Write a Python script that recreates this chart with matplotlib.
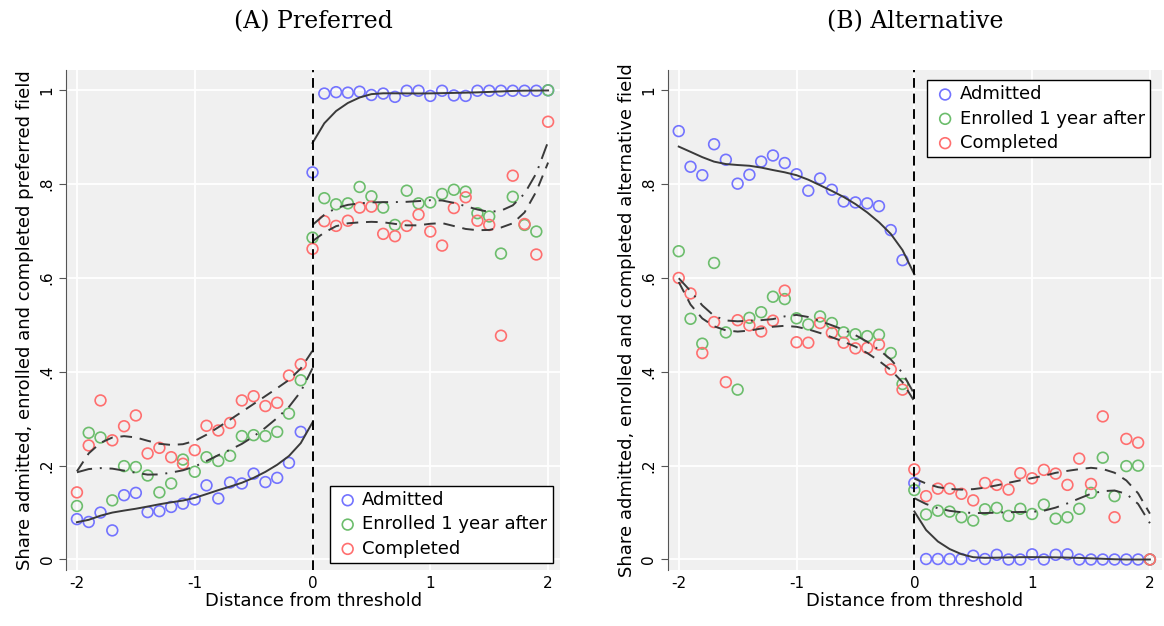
import numpy as np
import matplotlib.pyplot as plt

bins = np.round(np.arange(-2, 2.001, 0.1), 1)

# (A) Preferred field
pref_admitted = [0.086, 0.080, 0.100, 0.062, 0.137, 0.142, 0.101, 0.103, 0.112, 0.119,
                 0.128, 0.158, 0.130, 0.164, 0.162, 0.183, 0.165, 0.174, 0.206, 0.272,
                 0.825,
                 0.993, 0.996, 0.995, 0.997, 0.990, 0.993, 0.986, 0.999, 0.999, 0.988,
                 0.999, 0.989, 0.988, 0.999, 0.999, 0.999, 0.999, 0.999, 0.999, 1.000]
pref_enrolled = [0.114, 0.270, 0.260, 0.126, 0.199, 0.197, 0.179, 0.143, 0.162, 0.213,
                 0.187, 0.218, 0.210, 0.221, 0.263, 0.265, 0.263, 0.272, 0.311, 0.382,
                 0.686,
                 0.770, 0.757, 0.759, 0.794, 0.774, 0.750, 0.713, 0.786, 0.759, 0.761,
                 0.779, 0.788, 0.784, 0.738, 0.731, 0.652, 0.773, 0.713, 0.699, 1.000]
pref_completed = [0.143, 0.243, 0.339, 0.254, 0.284, 0.307, 0.226, 0.238, 0.218, 0.204,
                  0.233, 0.285, 0.275, 0.291, 0.339, 0.348, 0.327, 0.334, 0.392, 0.416,
                  0.662,
                  0.721, 0.711, 0.722, 0.750, 0.752, 0.694, 0.689, 0.711, 0.735, 0.699,
                  0.669, 0.749, 0.772, 0.722, 0.713, 0.477, 0.818, 0.715, 0.650, 0.933]

# (B) Alternative field
alt_admitted = [0.913, 0.837, 0.819, 0.885, 0.852, 0.801, 0.820, 0.848, 0.861, 0.845,
                0.821, 0.786, 0.812, 0.788, 0.763, 0.761, 0.759, 0.753, 0.702, 0.638,
                0.163,
                0.001, 0.001, 0.001, 0.001, 0.008, 0.001, 0.010, 0.000, 0.000, 0.011,
                0.000, 0.010, 0.011, 0.000, 0.000, 0.000, 0.000, 0.000, 0.000, 0.000]
alt_enrolled = [0.657, 0.513, 0.460, 0.632, 0.484, 0.362, 0.515, 0.527, 0.560, 0.555,
                0.514, 0.501, 0.518, 0.504, 0.484, 0.480, 0.476, 0.479, 0.440, 0.374,
                0.148,
                0.096, 0.104, 0.102, 0.090, 0.083, 0.107, 0.110, 0.093, 0.108, 0.097,
                0.117, 0.087, 0.090, 0.108, 0.142, 0.217, 0.135, 0.199, 0.200, 0.000]
alt_completed = [0.600, 0.567, 0.440, 0.506, 0.378, 0.510, 0.499, 0.486, 0.509, 0.573,
                 0.463, 0.462, 0.504, 0.483, 0.462, 0.450, 0.451, 0.458, 0.405, 0.362,
                 0.192,
                 0.135, 0.151, 0.151, 0.140, 0.126, 0.163, 0.159, 0.149, 0.184, 0.173,
                 0.191, 0.183, 0.159, 0.215, 0.161, 0.305, 0.090, 0.257, 0.249, 0.000]


def local_linear(x, y, xe, bw=0.6):
    out = []
    for x0 in xe:
        d = np.abs(x - x0) / bw
        w = np.where(d < 1, (1 - d ** 3) ** 3, 0)
        W = np.sum(w)
        mx = np.sum(w * x) / W
        my = np.sum(w * y) / W
        sxx = np.sum(w * (x - mx) ** 2)
        b = np.sum(w * (x - mx) * (y - my)) / sxx if sxx > 0 else 0
        out.append(my + b * (x0 - mx))
    return np.array(out)


def fit_sides(y):
    y = np.asarray(y)
    left = bins < 0
    right = bins >= 0
    xl = bins[bins <= 0]
    return [(xl, local_linear(bins[left], y[left], xl)),
            (bins[right], local_linear(bins[right], y[right], bins[right]))]


C_ADM = '#7373ff'
C_ENR = '#6cbd6c'
C_COM = '#ff6f6f'
LC = '#3a3a3a'

fig = plt.figure(figsize=(11.64, 6.26), dpi=100)
ax1 = fig.add_axes([0.057, 0.089, 0.424, 0.799])
ax2 = fig.add_axes([0.574, 0.089, 0.424, 0.799])

panels = [
    (ax1, '(A) Preferred', 'Share admitted, enrolled and completed preferred field',
     pref_admitted, pref_enrolled, pref_completed, 'lower right', (1.0, 0.0)),
    (ax2, '(B) Alternative', 'Share admitted, enrolled and completed alternative field',
     alt_admitted, alt_enrolled, alt_completed, 'upper left', (0.51, 0.995)),
]

for ax, title, ylabel, adm, enr, com, loc, anchor in panels:
    ax.set_facecolor('#f0f0f0')
    ax.grid(True, color='white', linewidth=1.3)
    ax.set_axisbelow(True)
    for s in ['top', 'right', 'bottom']:
        ax.spines[s].set_visible(False)
    ax.spines['left'].set_color('#555555')

    for y, c, ls, lab in [(adm, C_ADM, '-', 'Admitted'),
                          (enr, C_ENR, (0, (8, 4, 1, 4)), 'Enrolled 1 year after'),
                          (com, C_COM, (0, (6, 4)), 'Completed')]:
        ax.scatter(bins, y, s=60, facecolors='none', edgecolors=c, linewidths=1.2,
                   label=lab, zorder=3)
        for xs, ys in fit_sides(y):
            ax.plot(xs, ys, color=LC, linestyle=ls, linewidth=1.4, zorder=4)

    ax.axvline(0, color='black', linestyle=(0, (5, 3)), linewidth=1.4, zorder=5)
    ax.set_xlim(-2.09, 2.1)
    ax.set_ylim(-0.023, 1.043)
    ax.set_xticks([-2, -1, 0, 1, 2])
    ax.set_xticklabels(['-2', '-1', '0', '1', '2'])
    ax.set_yticks([0, 0.2, 0.4, 0.6, 0.8, 1])
    ax.set_yticklabels(['0', '.2', '.4', '.6', '.8', '1'], rotation=90, va='center')
    ax.tick_params(axis='x', length=0, labelsize=11, pad=4)
    ax.tick_params(axis='y', length=5, labelsize=11, color='#555555')
    ax.set_xlabel('Distance from threshold', fontsize=13, labelpad=1)
    ax.set_ylabel(ylabel, fontsize=13, labelpad=4)
    ax.set_title(title, fontsize=17, family='DejaVu Serif', pad=30)
    leg = ax.legend(loc=loc, bbox_to_anchor=anchor, fontsize=13, frameon=True,
                    fancybox=False, edgecolor='black', framealpha=1,
                    handletextpad=0.1, handlelength=1.4, borderaxespad=0.4,
                    borderpad=0.3, labelspacing=0.35)
    leg.get_frame().set_linewidth(1.0)

fig.savefig('out.png', dpi=100)
